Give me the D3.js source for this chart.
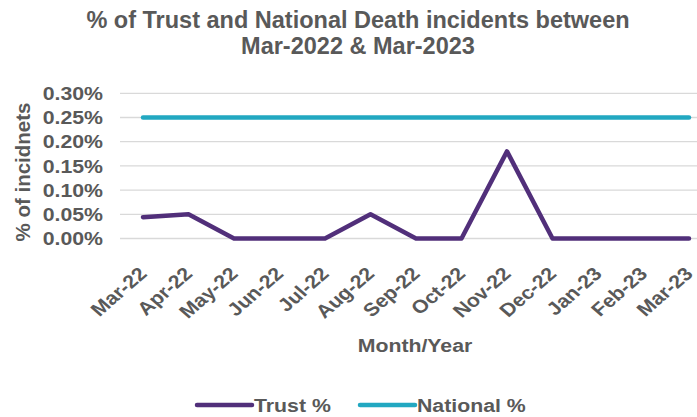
<!DOCTYPE html>
<html>
<head>
    <meta charset="utf-8">
    <title>Trust vs National Death incidents</title>
    <script src="https://d3js.org/d3.v7.min.js"></script>
    <style>
        body { margin: 0; background: #fff; font-family: "Liberation Sans", Arial, sans-serif; }
        text { fill: #595959; font-weight: bold; }
        .grid line { stroke: #d9d9d9; stroke-width: 1.3px; }
    </style>
</head>
<body>
<div id="chart"></div>
<script>
  // chart data
  const months = ["Mar-22", "Apr-22", "May-22", "Jun-22", "Jul-22", "Aug-22", "Sep-22",
                  "Oct-22", "Nov-22", "Dec-22", "Jan-23", "Feb-23", "Mar-23"];
  const trustPct = [0.044, 0.05, 0, 0, 0, 0.05, 0, 0, 0.18, 0, 0, 0, 0];
  const nationalPct = [0.25, 0.25, 0.25, 0.25, 0.25, 0.25, 0.25, 0.25, 0.25, 0.25, 0.25, 0.25, 0.25];
  const yTicks = [0, 0.05, 0.10, 0.15, 0.20, 0.25, 0.30];

  const width = 697, height = 417;
  const sx = 1.15; // text in the original is a little wider than Arial
  const svg = d3.select("#chart").append("svg")
    .attr("width", width)
    .attr("height", height);

  // plot area runs a bit past the right edge, like the original
  const x = d3.scalePoint().domain(months).range([143, 689]);
  const y = d3.scaleLinear().domain([0, 0.30]).range([238.5, 93.3]);

  // title
  svg.append("text").attr("x", 358).attr("y", 28).attr("text-anchor", "middle")
    .style("font-size", "23.5px").text("% of Trust and National Death incidents between");
  svg.append("text").attr("x", 358).attr("y", 54).attr("text-anchor", "middle")
    .style("font-size", "23.5px").text("Mar-2022 & Mar-2023");

  // gridlines
  svg.append("g").attr("class", "grid")
    .selectAll("line").data(yTicks).enter().append("line")
    .attr("x1", 120).attr("x2", width)
    .attr("y1", d => y(d)).attr("y2", d => y(d));

  // y tick labels
  svg.append("g").selectAll("text").data(yTicks).enter().append("text")
    .attr("transform", d => `translate(103,${y(d)}) scale(${sx},1)`)
    .attr("dy", "0.36em")
    .attr("text-anchor", "end").style("font-size", "18.5px")
    .text(d => d3.format(".2%")(d / 100));

  // y axis title
  svg.append("text")
    .attr("transform", "translate(30,172) rotate(-90)")
    .attr("text-anchor", "middle").style("font-size", "20.5px")
    .text("% of incidnets");

  // x tick labels
  svg.append("g").selectAll("text").data(months).enter().append("text")
    .attr("transform", d => `translate(${x(d) + 5},${275}) scale(${sx},1) rotate(-45)`)
    .attr("text-anchor", "end")
    .style("font-size", "18.5px")
    .text(d => d);

  // x axis title
  svg.append("text")
    .attr("transform", `translate(415,352) scale(${sx},1)`)
    .attr("text-anchor", "middle")
    .style("font-size", "18.5px").text("Month/Year");

  // lines
  const line = d3.line().x((d, i) => x(months[i])).y(d => y(d));
  const series = [
    { name: "Trust %", values: trustPct, color: "#512f7a" },
    { name: "National %", values: nationalPct, color: "#22a8c1" }
  ];
  svg.append("path").datum(nationalPct)
    .attr("d", line).attr("fill", "none")
    .attr("stroke", series[1].color).attr("stroke-width", 4.5)
    .attr("stroke-linecap", "round").attr("stroke-linejoin", "round");
  svg.append("path").datum(trustPct)
    .attr("d", line).attr("fill", "none")
    .attr("stroke", series[0].color).attr("stroke-width", 4.5)
    .attr("stroke-linecap", "round").attr("stroke-linejoin", "round");

  // legend
  const legendX = [197, 360];
  const legend = svg.append("g").selectAll("g").data(series).enter().append("g")
    .attr("transform", (d, i) => `translate(${legendX[i]},405)`);
  legend.append("line").attr("x1", 0).attr("x2", 55)
    .attr("stroke", d => d.color).attr("stroke-width", 4.5).attr("stroke-linecap", "round");
  legend.append("text").attr("transform", `translate(57,0) scale(${sx},1)`).attr("dy", "0.36em")
    .style("font-size", "18.5px").text(d => d.name);
</script>
</body>
</html>
